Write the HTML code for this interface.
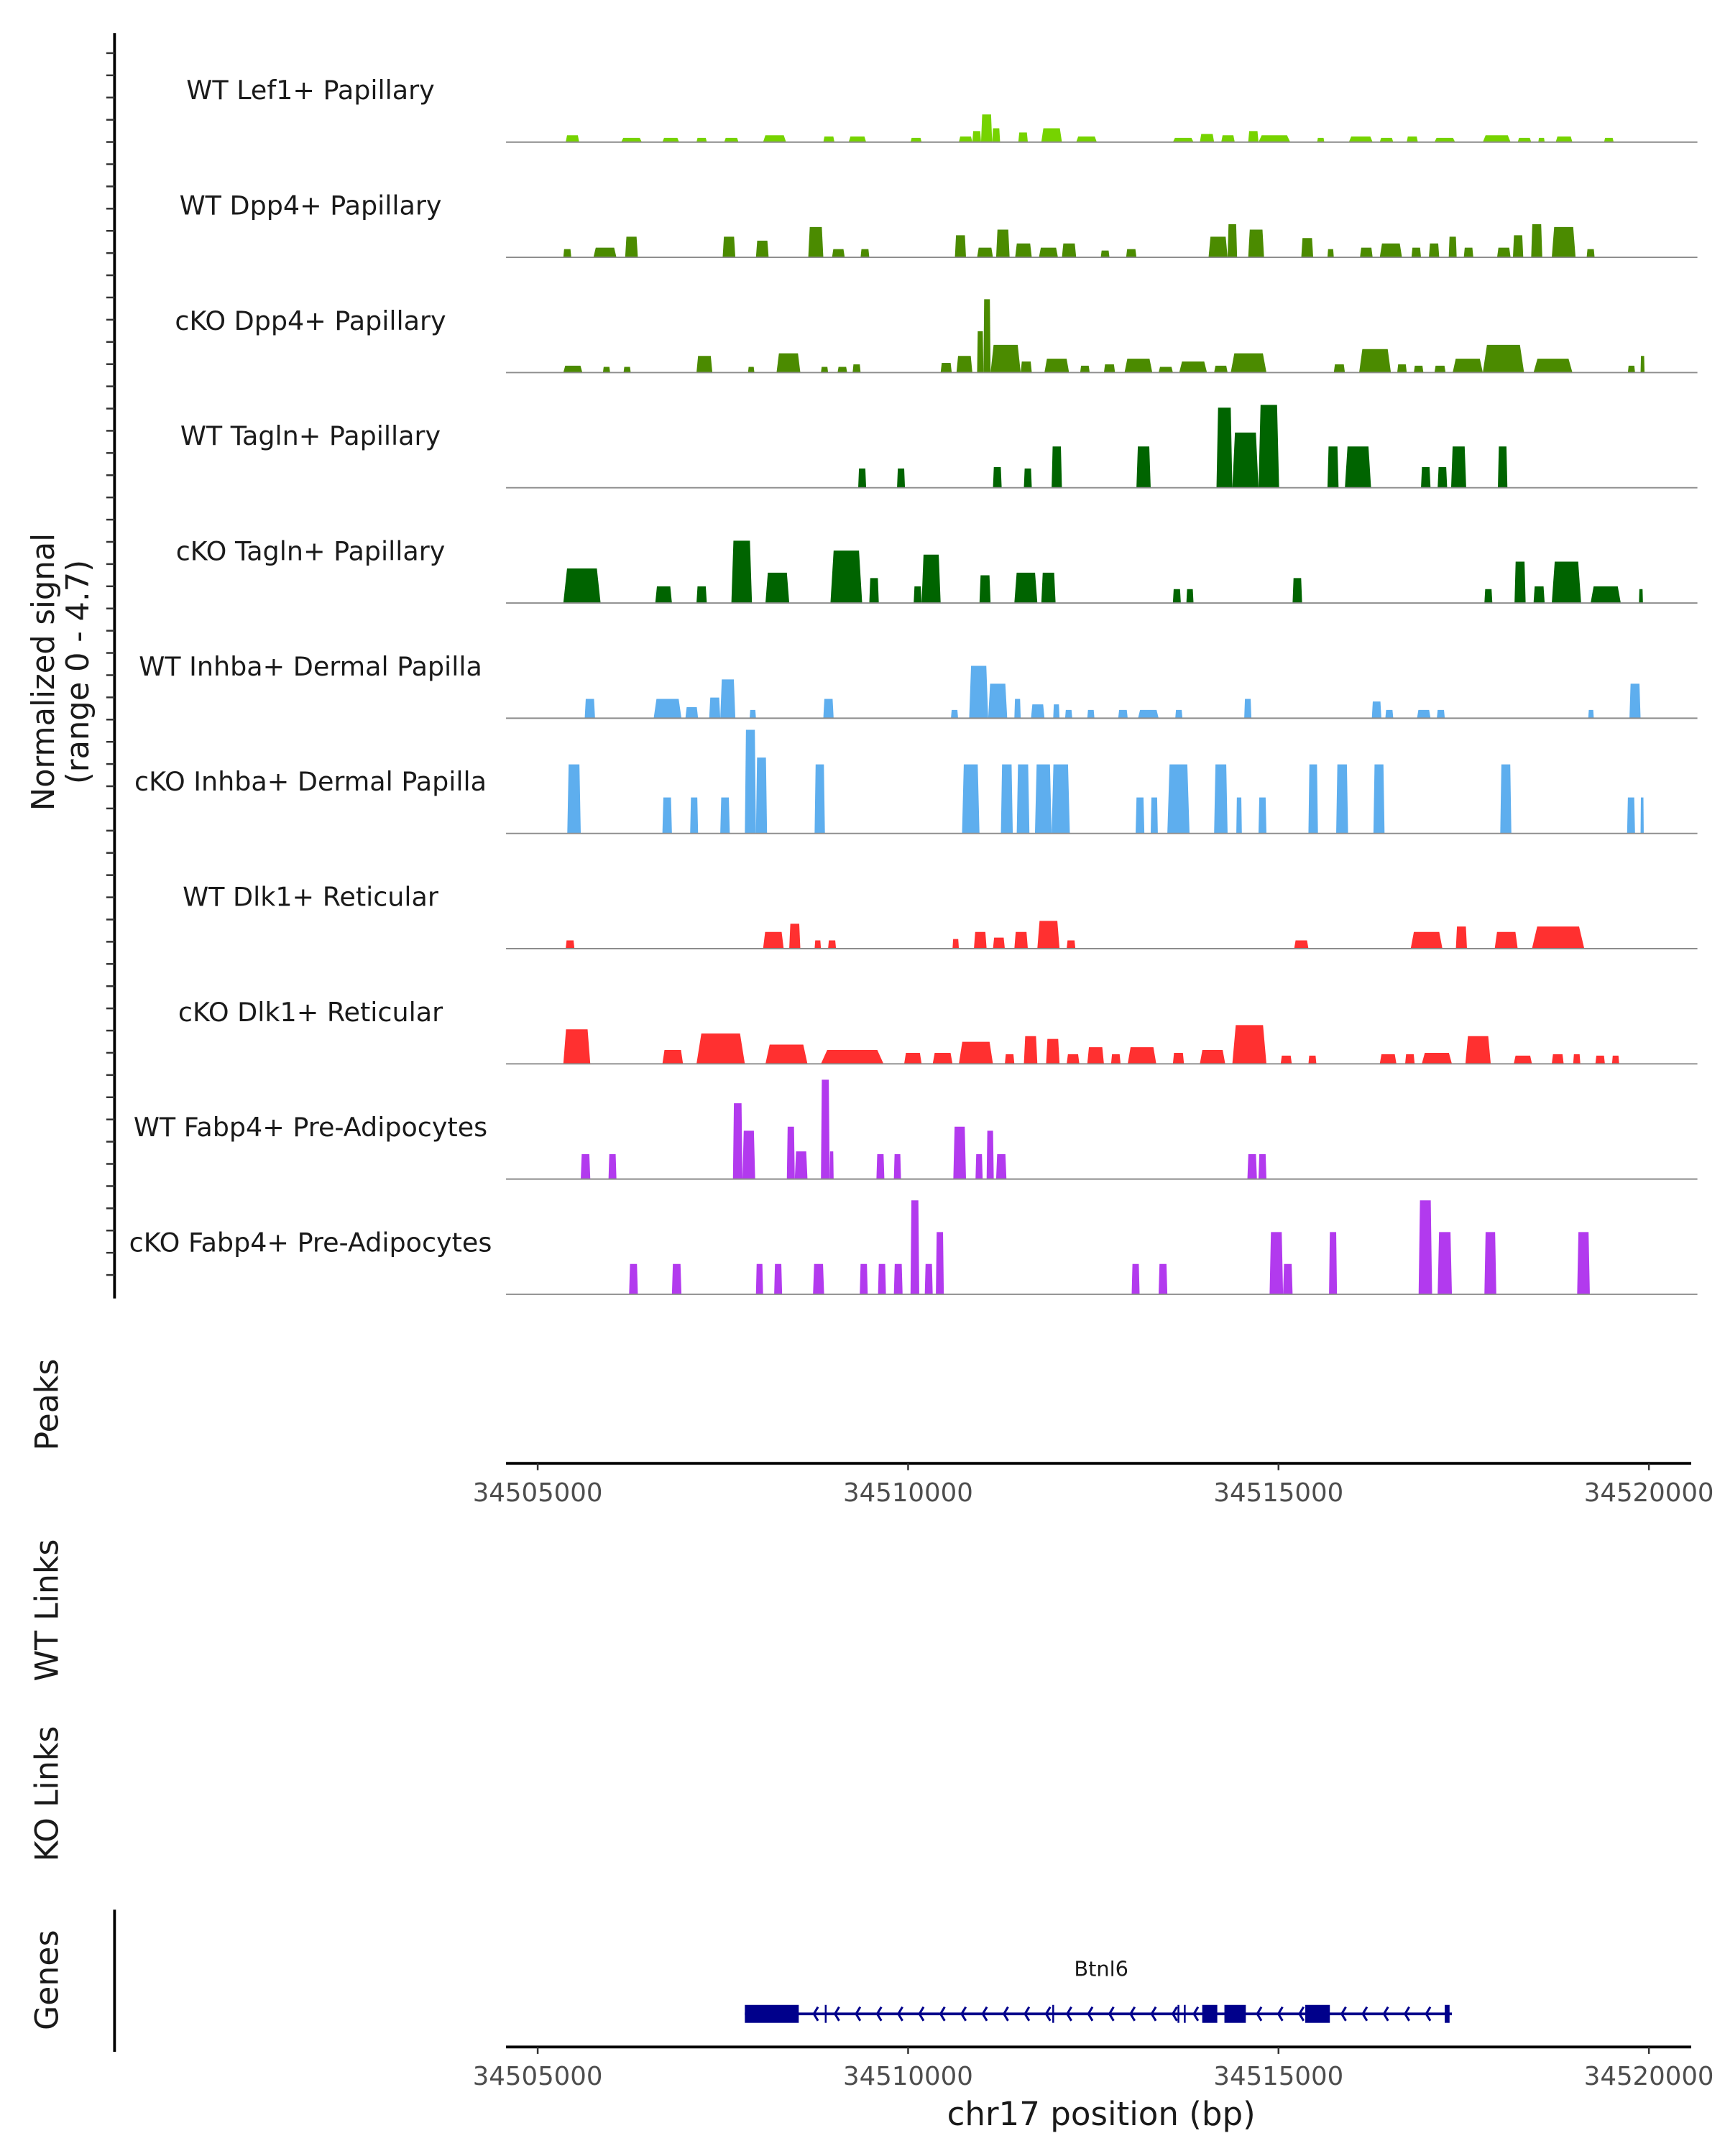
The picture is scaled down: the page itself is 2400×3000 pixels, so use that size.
<!DOCTYPE html>
<html><head><meta charset="utf-8"><style>
html,body{margin:0;padding:0;background:#fff}
svg{display:block}
text{font-family:"DejaVu Sans","Liberation Sans",sans-serif}
</style></head><body>
<svg id="chart" xmlns="http://www.w3.org/2000/svg" width="2400" height="3000" viewBox="0 0 1250 1562.5">
<g id="tracks"></g>
<g id="axes"></g>
<g id="genes"></g>
<text transform="translate(44,487) rotate(-90)" text-anchor="middle" font-size="22.5" fill="#1a1a1a"><tspan x="0" dy="-5">Normalized signal</tspan><tspan x="0" dy="25">(range 0 - 4.7)</tspan></text>
<text transform="translate(42,1018) rotate(-90)" text-anchor="middle" font-size="23" fill="#1a1a1a">Peaks</text>
<text transform="translate(42,1167) rotate(-90)" text-anchor="middle" font-size="23" fill="#1a1a1a">WT Links</text>
<text transform="translate(42,1300) rotate(-90)" text-anchor="middle" font-size="23" fill="#1a1a1a">KO Links</text>
<text transform="translate(42,1435) rotate(-90)" text-anchor="middle" font-size="23" fill="#1a1a1a">Genes</text>
<text x="798" y="1540" text-anchor="middle" font-size="23.5" fill="#1a1a1a">chr17 position (bp)</text>
<text x="798" y="1432" text-anchor="middle" font-size="15" fill="#1a1a1a">Btnl6</text>
</svg>
<script>
// positions: kb units from region start (34504597), 1 unit ~ 1070 bp; values: normalized signal
const trackNames = ["WT Lef1+ Papillary","WT Dpp4+ Papillary","cKO Dpp4+ Papillary","WT Tagln+ Papillary","cKO Tagln+ Papillary","WT Inhba+ Dermal Papilla","cKO Inhba+ Dermal Papilla","WT Dlk1+ Reticular","cKO Dlk1+ Reticular","WT Fabp4+ Pre-Adipocytes","cKO Fabp4+ Pre-Adipocytes"];
const trackColors = ["#76d300","#4b8b00","#4b8b00","#006400","#006400","#5eaeee","#5eaeee","#ff3030","#ff3030","#b23aee","#b23aee"];
const lef1WT = [[0.73,0.90,0.29],[1.43,1.69,0.18],[1.95,2.16,0.18],[2.38,2.51,0.18],[2.73,2.91,0.18],[3.22,3.51,0.29],[3.98,4.12,0.24],[4.30,4.52,0.24],[5.08,5.22,0.18],[5.69,5.86,0.24],[5.86,5.97,0.47],[5.97,6.11,1.18],[6.11,6.21,0.59],[6.44,6.56,0.41],[6.73,6.99,0.59],[7.17,7.43,0.24],[8.39,8.65,0.18],[8.73,8.91,0.35],[9.00,9.17,0.29],[9.34,9.47,0.47],[9.47,9.87,0.29],[10.21,10.30,0.18],[10.61,10.91,0.24],[11.00,11.17,0.18],[11.34,11.48,0.24],[11.69,11.95,0.18],[12.30,12.65,0.29],[12.74,12.91,0.18],[13.00,13.08,0.18],[13.22,13.43,0.24],[13.83,13.95,0.18]];
const dpp4WT = [[0.70,0.80,0.35],[1.08,1.37,0.41],[1.48,1.64,0.88],[2.71,2.87,0.88],[3.13,3.29,0.71],[3.79,3.98,1.29],[4.09,4.25,0.35],[4.45,4.56,0.35],[5.64,5.78,0.94],[5.92,6.12,0.41],[6.16,6.33,1.18],[6.40,6.61,0.59],[6.70,6.94,0.41],[6.99,7.17,0.59],[7.48,7.59,0.29],[7.80,7.93,0.35],[8.84,9.08,0.88],[9.08,9.20,1.41],[9.34,9.54,1.18],[10.01,10.16,0.82],[10.34,10.42,0.35],[10.75,10.91,0.41],[11.00,11.28,0.59],[11.40,11.52,0.41],[11.62,11.75,0.59],[11.87,11.97,0.88],[12.06,12.18,0.41],[12.48,12.65,0.41],[12.68,12.81,0.94],[12.91,13.05,1.41],[13.17,13.47,1.29],[13.61,13.71,0.35]];
const dpp4KO = [[0.70,0.94,0.29],[1.20,1.29,0.24],[1.46,1.55,0.24],[2.38,2.58,0.71],[3.03,3.11,0.24],[3.39,3.69,0.82],[3.95,4.04,0.24],[4.16,4.28,0.24],[4.35,4.45,0.35],[5.46,5.60,0.41],[5.66,5.86,0.71],[5.92,6.00,1.76],[6.00,6.09,3.12],[6.09,6.47,1.18],[6.47,6.61,0.47],[6.77,7.08,0.59],[7.22,7.34,0.29],[7.52,7.66,0.35],[7.78,8.13,0.59],[8.21,8.39,0.24],[8.47,8.82,0.47],[8.91,9.08,0.29],[9.12,9.57,0.82],[10.42,10.56,0.35],[10.74,11.14,1.00],[11.22,11.34,0.35],[11.43,11.55,0.29],[11.69,11.83,0.29],[11.92,12.30,0.59],[12.30,12.82,1.18],[12.94,13.43,0.59],[14.13,14.22,0.29],[14.29,14.34,0.71]];
const taglnWT = [[4.42,4.52,0.82],[4.91,5.01,0.82],[6.12,6.23,0.88],[6.51,6.61,0.82],[6.86,6.99,1.76],[7.93,8.11,1.76],[8.94,9.14,3.41],[9.14,9.47,2.35],[9.47,9.73,3.53],[10.34,10.48,1.76],[10.56,10.89,1.76],[11.52,11.64,0.88],[11.73,11.85,0.88],[11.90,12.09,1.76],[12.49,12.61,1.76]];
const taglnKO = [[0.70,1.17,1.47],[1.86,2.07,0.71],[2.38,2.51,0.71],[2.82,3.08,2.65],[3.25,3.55,1.29],[4.07,4.47,2.23],[4.56,4.68,1.06],[5.12,5.22,0.71],[5.22,5.46,2.06],[5.95,6.09,1.18],[6.39,6.68,1.29],[6.73,6.91,1.29],[8.39,8.49,0.59],[8.56,8.65,0.59],[9.90,10.02,1.06],[12.32,12.42,0.59],[12.70,12.84,1.76],[12.94,13.08,0.71],[13.17,13.54,1.76],[13.66,14.04,0.71],[14.27,14.32,0.59]];
const inhbaWT = [[0.97,1.10,0.82],[1.84,2.19,0.82],[2.24,2.40,0.47],[2.54,2.68,0.88],[2.68,2.87,1.65],[3.05,3.13,0.35],[3.98,4.11,0.82],[5.59,5.68,0.35],[5.82,6.06,2.23],[6.06,6.30,1.47],[6.39,6.47,0.82],[6.60,6.77,0.59],[6.88,6.96,0.59],[7.03,7.12,0.35],[7.31,7.40,0.35],[7.70,7.82,0.35],[7.95,8.21,0.35],[8.42,8.51,0.35],[9.29,9.38,0.82],[10.90,11.02,0.71],[11.07,11.17,0.35],[11.47,11.64,0.35],[11.72,11.82,0.35],[13.63,13.70,0.35],[14.15,14.29,1.47]];
const inhbaKO = [[0.75,0.92,2.94],[1.95,2.07,1.53],[2.30,2.40,1.53],[2.68,2.80,1.53],[2.99,3.13,4.41],[3.13,3.27,3.23],[3.87,4.00,2.94],[5.73,5.95,2.94],[6.22,6.37,2.94],[6.42,6.58,2.94],[6.65,6.86,2.94],[6.86,7.09,2.94],[7.92,8.03,1.53],[8.11,8.20,1.53],[8.32,8.60,2.94],[8.91,9.08,2.94],[9.19,9.26,1.53],[9.47,9.57,1.53],[10.10,10.22,2.94],[10.45,10.60,2.94],[10.92,11.06,2.94],[12.52,12.66,2.94],[14.12,14.22,1.53],[14.29,14.33,1.53]];
const dlk1WT = [[0.73,0.84,0.35],[3.22,3.48,0.71],[3.55,3.69,1.06],[3.87,3.95,0.35],[4.04,4.14,0.35],[5.61,5.69,0.41],[5.88,6.04,0.71],[6.12,6.27,0.47],[6.39,6.56,0.71],[6.68,6.96,1.18],[7.05,7.16,0.35],[9.92,10.10,0.35],[11.39,11.79,0.71],[11.96,12.10,0.94],[12.45,12.74,0.71],[12.92,13.58,0.94]];
const dlk1KO = [[0.70,1.04,1.47],[1.95,2.21,0.59],[2.38,2.99,1.29],[3.25,3.78,0.82],[3.95,4.74,0.59],[5.00,5.22,0.47],[5.36,5.61,0.47],[5.69,6.12,0.94],[6.27,6.39,0.41],[6.51,6.68,1.18],[6.79,6.96,1.06],[7.05,7.21,0.41],[7.31,7.52,0.71],[7.61,7.73,0.41],[7.82,8.18,0.71],[8.39,8.53,0.47],[8.73,9.05,0.59],[9.14,9.57,1.65],[9.75,9.89,0.35],[10.10,10.20,0.35],[11.00,11.21,0.41],[11.32,11.44,0.41],[11.53,11.91,0.47],[12.08,12.40,1.18],[12.69,12.92,0.35],[13.17,13.32,0.41],[13.44,13.53,0.41],[13.72,13.84,0.35],[13.93,14.02,0.35]];
const fabp4WT = [[0.92,1.04,1.06],[1.27,1.37,1.06],[2.84,2.96,3.23],[2.96,3.12,2.06],[3.52,3.62,2.23],[3.62,3.78,1.18],[3.95,4.06,4.23],[4.06,4.11,1.18],[4.65,4.75,1.06],[4.87,4.96,1.06],[5.62,5.78,2.23],[5.90,5.99,1.06],[6.04,6.13,2.06],[6.16,6.29,1.06],[9.33,9.45,1.06],[9.47,9.57,1.06]];
const fabp4KO = [[1.53,1.64,1.29],[2.07,2.19,1.29],[3.13,3.22,1.29],[3.36,3.46,1.29],[3.85,3.99,1.29],[4.44,4.54,1.29],[4.67,4.77,1.29],[4.87,4.98,1.29],[5.08,5.19,4.00],[5.26,5.36,1.29],[5.40,5.50,2.65],[7.87,7.97,1.29],[8.21,8.32,1.29],[9.61,9.78,2.65],[9.78,9.90,1.29],[10.36,10.46,2.65],[11.49,11.66,4.00],[11.73,11.91,2.65],[12.32,12.47,2.65],[13.49,13.65,2.65]];
const trackData = [lef1WT,dpp4WT,dpp4KO,taglnWT,taglnKO,inhbaWT,inhbaKO,dlk1WT,dlk1KO,fabp4WT,fabp4KO];
const xTickLabels = ["34505000","34510000","34515000","34520000"];
const xTickBp = [34505000,34510000,34515000,34520000];
const exons = [[2.99,3.67],[8.76,8.95],[9.04,9.31],[10.06,10.37]];
const geneMarks = [4.01,6.88,8.46,8.54,11.85];
const geneSpan = [2.99,11.91];

const NS="http://www.w3.org/2000/svg";
const X0=368, PX_PER_UNIT=57.44, UNIT_BP=1070, ORIGIN_BP=34504597;
const AXIS_L=366.7, AXIS_R=1225.5;
function xs(k){return X0+k*PX_PER_UNIT;}
function xBp(bp){return xs((bp-ORIGIN_BP)/UNIT_BP);}
const MAXV=4.7, TRACK_H=80, FIRST_BASE=103, STEP=83.5;
function ys(v,base){return base - v/MAXV*TRACK_H;}
function mk(tag,attrs,parent){const e=document.createElementNS(NS,tag);for(const k in attrs)e.setAttribute(k,attrs[k]);parent.appendChild(e);return e;}

const tracks=document.getElementById('tracks');
trackData.forEach((arr,i)=>{
  const base=FIRST_BASE+i*STEP;
  const g=mk('g',{},tracks);
  
  
  const t=mk('text',{x:225,y:base-31,'text-anchor':'middle','font-size':'19',fill:'#1a1a1a'},g);
  t.textContent=trackNames[i];
  
  
  arr.forEach(b=>{
    const x0=xs(b[0]),x1=xs(b[1]),w=x1-x0,y=ys(b[2],base);
    const p=mk('polygon',{points:`${x0},${base} ${x0+w*0.1},${y} ${x1-w*0.1},${y} ${x1},${base}`,fill:trackColors[i]},g);
    
    
  });
  const l=mk('line',{x1:AXIS_L,x2:1230,y1:base,y2:base,stroke:'#8c8c8c','stroke-width':1},g);
  
  
});

const axes=document.getElementById('axes');
const sp=mk('line',{x1:83,x2:83,y1:24,y2:941,stroke:'#000','stroke-width':2},axes);


for(let y=38.5;y<=940;y+=16.1){
  const tk=mk('line',{x1:77,x2:83,y1:y,y2:y,stroke:'#333','stroke-width':1.3},axes);
  
  
}
const gs=mk('line',{x1:83,x2:83,y1:1384,y2:1487,stroke:'#000','stroke-width':2},axes);


[[1060.5,1081],[1483.5,1504]].forEach((r,j)=>{
  const al=mk('line',{x1:AXIS_L,x2:AXIS_R,y1:r[0],y2:r[0],stroke:'#000','stroke-width':2},axes);
  
  
  xTickBp.forEach((bp,i)=>{
    const x=xBp(bp);
    const tk=mk('line',{x1:x,x2:x,y1:r[0],y2:r[0]+5,stroke:'#333','stroke-width':1.3},axes);
    
    
    const tl=mk('text',{x:x,y:r[1]+7,'text-anchor':'middle','font-size':'18.5',fill:'#4d4d4d'},axes);
    tl.textContent=xTickLabels[i];
    
    
  });
});

const genes=document.getElementById('genes');
const GY=1459.5, NAVY='#00008b';
const gl=mk('line',{x1:xs(geneSpan[0]),x2:xs(geneSpan[1]),y1:GY,y2:GY,stroke:NAVY,'stroke-width':2},genes);


for(let x=xs(geneSpan[0])+50;x<xs(geneSpan[1])-5;x+=15.3){
  const inEx=exons.some(e=>x>xs(e[0])-3&&x<xs(e[1])+3);
  if(inEx)continue;
  const c=mk('polyline',{points:`${x+3},${GY-5} ${x},${GY} ${x+3},${GY+5}`,fill:'none',stroke:NAVY,'stroke-width':1.6},genes);
  
  
}
exons.forEach(e=>{
  const r=mk('rect',{x:xs(e[0]),y:GY-6.5,width:xs(e[1])-xs(e[0]),height:13,fill:NAVY},genes);
  
  
});
geneMarks.forEach(k=>{
  const m=mk('line',{x1:xs(k),x2:xs(k),y1:GY-6.5,y2:GY+6.5,stroke:NAVY,'stroke-width':k===geneMarks[geneMarks.length-1]?3.5:1.3},genes);
  
  
});
</script>
</body></html>
